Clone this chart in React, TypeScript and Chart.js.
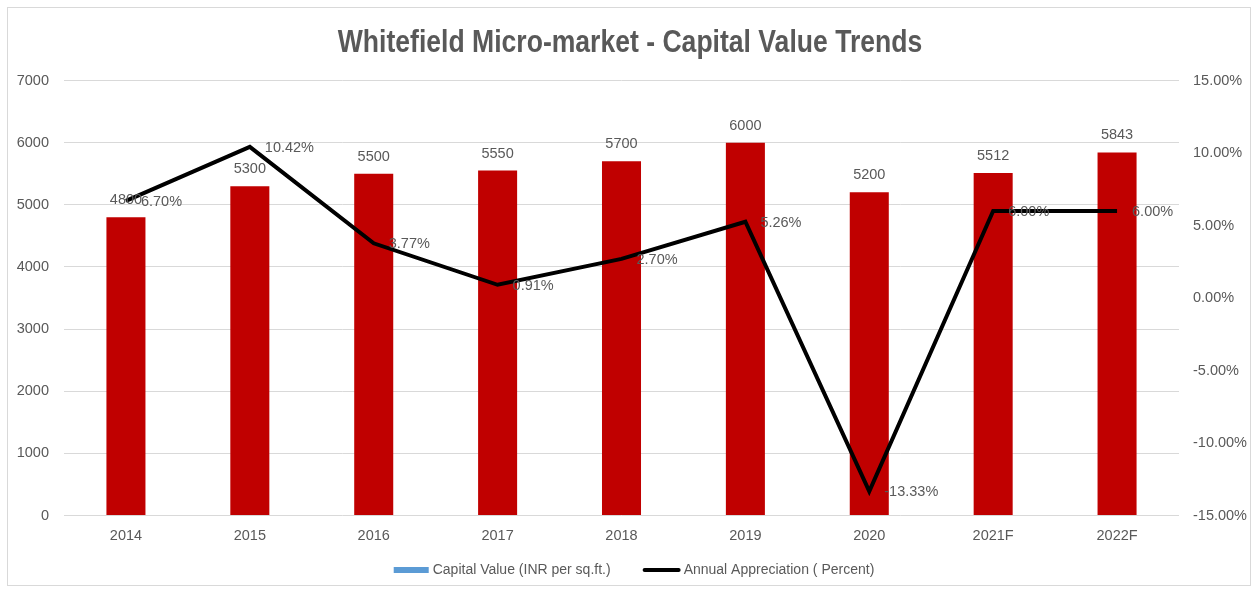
import React, { useEffect, useRef } from "react";
import { Chart, registerables } from "chart.js";

Chart.register(...registerables);

const title = "Whitefield Micro-market - Capital Value Trends";
const categories = ["2014", "2015", "2016", "2017", "2018", "2019", "2020", "2021F", "2022F"];
const capitalValues = [4800, 5300, 5500, 5550, 5700, 6000, 5200, 5512, 5843];
const appreciation = [6.7, 10.42, 3.77, 0.91, 2.7, 5.26, -13.33, 6.0, 6.0];
const leftAxis = { min: 0, max: 7000, step: 1000 };
const rightAxis = { min: -15, max: 15, step: 5 };
const seriesNames = ["Capital Value (INR per sq.ft.)", "Annual Appreciation ( Percent)"];
const legendColors = ["#5b9bd5", "#000000"];

const FONT = "'Liberation Sans Narrow', 'Arial Narrow', 'Liberation Sans', Arial, sans-serif";
const GRAY = "#595959";
const TXT = 14.5;

const titlePlugin = {
  id: "narrowTitle",
  afterDraw(chart: any) {
    const ctx = chart.ctx;
    const cx = chart.width / 2 + 1;
    ctx.save();
    ctx.font = `bold 32px ${FONT}`;
    ctx.fillStyle = GRAY;
    ctx.textAlign = "center";
    ctx.textBaseline = "alphabetic";
    ctx.translate(cx, 44.3);
    ctx.scale(0.83, 1);
    ctx.fillText(title, 0, 0);
    ctx.restore();
  },
};

const legendPlugin = {
  id: "bottomLegend",
  afterDraw(chart: any) {
    const ctx = chart.ctx;
    ctx.save();
    ctx.font = `14px ${FONT}`;
    const w1 = ctx.measureText(seriesNames[0]).width;
    const w2 = ctx.measureText(seriesNames[1]).width;
    const box1 = 35, gap1 = 4, sep = 32, box2 = 38, gap2 = 3;
    const total = box1 + gap1 + w1 + sep + box2 + gap2 + w2;
    const cy = 562;
    let x = 626 - total / 2;
    ctx.fillStyle = legendColors[0];
    ctx.fillRect(x, cy - 3, box1, 6);
    x += box1 + gap1;
    ctx.fillStyle = GRAY;
    ctx.textAlign = "left";
    ctx.textBaseline = "middle";
    ctx.fillText(seriesNames[0], x, cy);
    x += w1 + sep;
    ctx.strokeStyle = legendColors[1];
    ctx.lineWidth = 4;
    ctx.lineCap = "round";
    ctx.beginPath();
    ctx.moveTo(x + 2, cy);
    ctx.lineTo(x + box2 - 2, cy);
    ctx.stroke();
    x += box2 + gap2;
    ctx.fillStyle = GRAY;
    ctx.fillText(seriesNames[1], x, cy);
    ctx.restore();
  },
};

const labelPlugin = {
  id: "valueLabels",
  afterDatasetsDraw(chart: any) {
    const ctx = chart.ctx;
    ctx.save();
    ctx.font = `${TXT}px ${FONT}`;
    ctx.fillStyle = GRAY;
    ctx.textBaseline = "middle";
    const barMeta = chart.getDatasetMeta(0);
    barMeta.data.forEach((el: any, i: number) => {
      ctx.textAlign = "center";
      ctx.fillText(String(capitalValues[i]), el.x, el.y - 17);
    });
    const lineMeta = chart.getDatasetMeta(1);
    lineMeta.data.forEach((el: any, i: number) => {
      ctx.textAlign = "left";
      ctx.fillText(appreciation[i].toFixed(2) + "%", el.x + 15, el.y + 1);
    });
    ctx.restore();
  },
};

export default function App() {
  const ref = useRef<HTMLCanvasElement | null>(null);

  useEffect(() => {
    if (!ref.current) return;
    const chart = new Chart(ref.current, {
      type: "bar",
      data: {
        labels: categories,
        datasets: [
          {
            type: "bar",
            label: seriesNames[0],
            data: capitalValues,
            backgroundColor: "#c00000",
            barPercentage: 0.315,
            categoryPercentage: 1,
            yAxisID: "y",
            order: 1,
          },
          {
            type: "line",
            label: seriesNames[1],
            data: appreciation,
            borderColor: "#000000",
            backgroundColor: "#000000",
            borderWidth: 4,
            pointRadius: 0,
            tension: 0,
            yAxisID: "y1",
            order: 0,
          },
        ] as any,
      },
      options: {
        responsive: false,
        animation: false,
        layout: { padding: { top: 72.5, left: 0, right: 0, bottom: 42.5 } },
        plugins: {
          tooltip: { enabled: false },
          title: { display: false },
          legend: { display: false },
        },
        scales: {
          x: {
            grid: { display: false, drawTicks: false },
            border: { display: false },
            ticks: { color: GRAY, font: { family: FONT, size: TXT }, padding: 12 },
            afterFit: (s: any) => {
              s.height = 30;
            },
          },
          y: {
            position: "left",
            min: leftAxis.min,
            max: leftAxis.max,
            grid: { color: "#d9d9d9", lineWidth: 1, drawTicks: false },
            border: { display: false },
            ticks: {
              stepSize: leftAxis.step,
              color: GRAY,
              font: { family: FONT, size: TXT },
              padding: 15,
              callback: (v: any) => String(v),
            },
            afterFit: (s: any) => {
              s.width = 56;
            },
          },
          y1: {
            position: "right",
            min: rightAxis.min,
            max: rightAxis.max,
            grid: { display: false, drawTicks: false },
            border: { display: false },
            ticks: {
              stepSize: rightAxis.step,
              color: GRAY,
              font: { family: FONT, size: TXT },
              padding: 14,
              callback: (v: any) => Number(v).toFixed(2) + "%",
            },
            afterFit: (s: any) => {
              s.width = 71;
            },
          },
        },
      } as any,
      plugins: [labelPlugin, titlePlugin, legendPlugin],
    });
    return () => chart.destroy();
  }, []);

  return (
    <div style={{ position: "absolute", left: 0, top: 0, width: 1253, height: 589, background: "#fff" }}>
      <div
        style={{
          position: "absolute",
          left: 7,
          top: 7,
          width: 1244,
          height: 579,
          border: "1px solid #d9d9d9",
          boxSizing: "border-box",
          pointerEvents: "none",
        }}
      />
      <canvas ref={ref} width={1242} height={580} style={{ position: "absolute", left: 8, top: 8 }} />
    </div>
  );
}
